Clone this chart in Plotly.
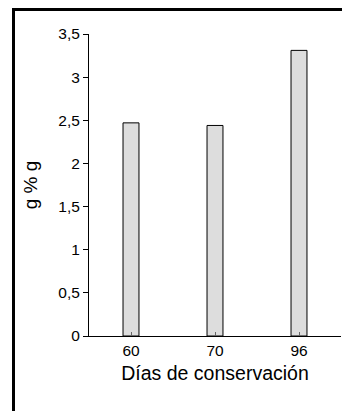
import plotly.graph_objects as go

categories = ["60", "70", "96"]
values = [2.47, 2.44, 3.31]
y_ticks = [0, 0.5, 1, 1.5, 2, 2.5, 3, 3.5]

# page has an 8px body margin; plot area sits at x 89..341, y 34..336 on the page
W, H = 342, 403
L, R, T, B = 81, 9, 26, 75
pw, ph = W - L - R, H - T - B

def px_x(x):
    return (x - 8 - L) / pw

def px_y(y):
    return (H - B - (y - 8)) / ph

fig = go.Figure()
fig.add_trace(go.Bar(
    x=categories, y=values, width=0.19,
    marker=dict(color="#dddddd", line=dict(color="black", width=1)),
))

font = "Liberation Sans, Arial, sans-serif"
fig.update_layout(
    width=W, height=H,
    margin=dict(l=L, r=R, t=T, b=B, autoexpand=False),
    paper_bgcolor="white", plot_bgcolor="white",
    separators=",.",
    showlegend=False,
    font=dict(family=font, size=15.5, color="black"),
    xaxis=dict(
        type="category", range=[-0.5, 2.5],
        showline=True, linecolor="black", linewidth=1,
        ticks="inside", ticklen=4, tickcolor="#666666",
        showgrid=False, zeroline=False,
        title=dict(text="Días de conservación", font=dict(size=19.5), standoff=8),
    ),
    yaxis=dict(
        range=[0, 3.5], tickvals=y_ticks,
        showline=True, linecolor="black", linewidth=1,
        ticks="outside", ticklen=5, tickcolor="black",
        showgrid=False, zeroline=False,
        title=dict(text="g % g", font=dict(size=19), standoff=15),
    ),
    shapes=[dict(
        type="rect", xref="paper", yref="paper",
        x0=px_x(13.5), x1=px_x(370), y0=px_y(440), y1=px_y(9.5),
        line=dict(color="black", width=3), fillcolor="rgba(0,0,0,0)",
        layer="below",
    )],
)

fig.write_html("out.html")
